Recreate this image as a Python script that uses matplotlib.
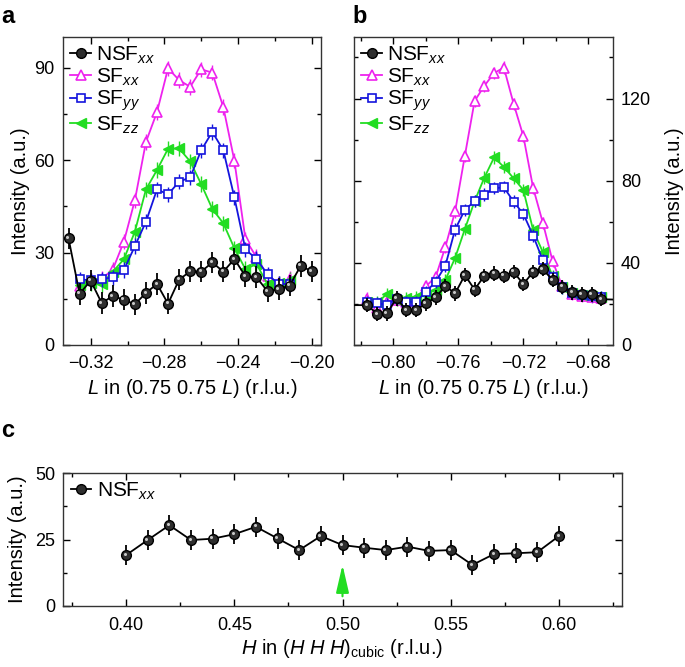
import matplotlib
matplotlib.use("Agg")
import matplotlib.pyplot as plt
from matplotlib.ticker import MultipleLocator, FormatStrFormatter
from matplotlib.lines import Line2D
from matplotlib.transforms import offset_copy

plt.rcParams['font.family'] = ['Liberation Sans', 'DejaVu Sans']
plt.rcParams['mathtext.fontset'] = 'custom'
plt.rcParams['mathtext.rm'] = 'Liberation Sans'
plt.rcParams['mathtext.it'] = 'Liberation Sans:italic'
plt.rcParams['font.size'] = 13

# panel a: (0.75 0.75 L)
L_a = [-0.332, -0.326, -0.320, -0.314, -0.308, -0.302, -0.296, -0.290, -0.284, -0.278, -0.272, -0.266,
       -0.260, -0.254, -0.248, -0.242, -0.236, -0.230, -0.224, -0.218, -0.212, -0.206, -0.200]
nsf_a = [34.6, 16.6, 20.9, 13.6, 15.9, 14.7, 13.2, 16.9, 19.8, 13.4, 21.2, 23.9,
         23.8, 26.8, 23.8, 27.9, 22.3, 22.0, 17.4, 18.2, 19.3, 25.7, 23.9]
L_a_sf = L_a[1:21]
sfxx_a = [19.0, 21.0, 21.5, 24.5, 33.5, 47.0, 65.9, 75.6, 89.8, 86.0, 83.8, 89.5, 88.4, 77.2, 59.8, 34.3, 28.5, 22.5, 20.0, 21.5]
sfyy_a = [21.3, 21.0, 21.3, 22.0, 24.3, 32.1, 40.0, 50.5, 48.9, 53.0, 54.4, 63.2, 69.2, 63.2, 47.9, 31.0, 27.9, 22.9, 19.8, 19.8]
sfzz_a = [19.5, 20.0, 19.8, 23.8, 27.8, 36.8, 50.5, 56.8, 63.7, 63.8, 59.6, 52.2, 44.2, 39.5, 31.4, 24.6, 26.3, 19.7, 20.0, 21.2]

# panel b: (0.75 0.75 L)
L_b = [-0.816, -0.810, -0.804, -0.798, -0.792, -0.786, -0.780, -0.774, -0.768, -0.762, -0.756, -0.750, -0.744,
       -0.738, -0.732, -0.726, -0.720, -0.714, -0.708, -0.702, -0.696, -0.690, -0.684, -0.678, -0.672]
L_b_nsf = [-0.828] + L_b + [-0.660]
nsf_b = [19.4, 19.4, 15.1, 15.4, 22.7, 17.0, 17.0, 20.2, 23.2, 28.7, 25.1, 34.0, 27.0, 33.7,
         34.8, 33.7, 35.6, 29.6, 35.6, 36.9, 31.6, 28.3, 25.6, 24.6, 24.6, 22.3, 22.0]
sfxx_b = [22.6, 18.0, 21.0, 22.0, 21.0, 22.0, 28.6, 33.0, 47.7, 65.0, 92.1, 118.8, 126.2,
          132.4, 135.1, 117.5, 101.7, 76.6, 59.5, 40.8, 28.5, 25.0, 24.0, 23.5, 23.0]
sfyy_b = [21.0, 20.2, 19.7, 22.6, 21.0, 21.0, 25.9, 30.7, 38.6, 56.2, 65.8, 70.0, 73.2,
          76.3, 76.8, 69.8, 63.8, 53.3, 41.2, 33.0, 28.0, 25.5, 24.5, 24.0, 23.4]
sfzz_b = [21.0, 20.7, 24.7, 22.0, 22.9, 23.5, 24.5, 27.0, 31.6, 42.4, 56.4, 70.0, 81.5,
          91.3, 86.7, 81.2, 75.5, 56.0, 45.2, 33.5, 28.0, 25.5, 24.5, 24.0, 23.5]

# panel c: (H H H)
H_c = [0.40, 0.41, 0.42, 0.43, 0.44, 0.45, 0.46, 0.47, 0.48, 0.49, 0.50,
       0.51, 0.52, 0.53, 0.54, 0.55, 0.56, 0.57, 0.58, 0.59, 0.60]
nsf_c = [19.1, 24.8, 30.4, 24.8, 25.3, 27.0, 29.8, 25.4, 21.0, 26.3, 22.9,
         21.9, 21.0, 22.3, 20.7, 21.0, 15.4, 19.5, 19.8, 20.2, 26.3]

MAG = '#ee22ee'
BLUE = '#1414dd'
GREEN = '#22dd22'
LAB = 14.5

NSF_STYLE = dict(color='black', lw=1.3, marker='o', ms=7, mfc='#2e2e2e', mec='black')
XX_STYLE = dict(color=MAG, lw=1.3, marker='^', ms=7, mfc='white', mec=MAG, mew=1.2)
YY_STYLE = dict(color=BLUE, lw=1.3, marker='s', ms=5.5, mfc='white', mec=BLUE, mew=1.2)
ZZ_STYLE = dict(color=GREEN, lw=1.3, marker='<', ms=7, mfc=GREEN, mec=GREEN)


def nsf(ax, x, y, err):
    ax.errorbar(x, y, yerr=err, elinewidth=1.3, capsize=0, zorder=5, **NSF_STYLE)
    # little highlight so the balls look shaded
    hl = offset_copy(ax.transData, fig=ax.figure, x=-1.0, y=1.0, units='points')
    ax.plot(x, y, ls='none', marker='o', ms=2.2, mfc='#c8c8c8', mec='none', transform=hl, zorder=6)


def sf_curves(ax, x, xx, yy, zz, err):
    ax.errorbar(x, xx, yerr=err, elinewidth=1.0, capsize=0, zorder=3, **XX_STYLE)
    ax.errorbar(x, yy, yerr=err, elinewidth=1.0, capsize=0, zorder=4, **YY_STYLE)
    ax.errorbar(x, zz, yerr=err, elinewidth=1.0, capsize=0, zorder=3, **ZZ_STYLE)


def legend(ax, full=True):
    handles = [Line2D([], [], **NSF_STYLE)]
    labels = [r'NSF$_{xx}$']
    if full:
        handles += [Line2D([], [], **XX_STYLE), Line2D([], [], **YY_STYLE), Line2D([], [], **ZZ_STYLE)]
        labels += [r'SF$_{xx}$', r'SF$_{yy}$', r'SF$_{zz}$']
    ax.legend(handles, labels, loc='upper left', frameon=False, handlelength=1.0,
              handletextpad=0.25, labelspacing=0.05, borderaxespad=0.1, borderpad=0.25, fontsize=15)


def style(ax):
    ax.tick_params(which='both', direction='in', top=True, right=True, labelsize=13, pad=6)
    ax.tick_params(which='major', length=5, width=1)
    ax.tick_params(which='minor', length=3, width=1)
    for s in ax.spines.values():
        s.set_linewidth(1.0)
        s.set_color('#333333')


fig = plt.figure(figsize=(6.85, 6.67), dpi=100)
ax_a = fig.add_axes([0.092, 0.4828, 0.3766, 0.4618])
ax_b = fig.add_axes([0.5168, 0.4828, 0.3777, 0.4618])
ax_c = fig.add_axes([0.0924, 0.0919, 0.8152, 0.1985])

# a
sf_curves(ax_a, L_a_sf, sfxx_a, sfyy_a, sfzz_a, 2.5)
nsf(ax_a, L_a, nsf_a, 3.5)
ax_a.set_xlim(-0.335, -0.195)
ax_a.set_ylim(0, 100)
ax_a.set_xticks([-0.32, -0.28, -0.24, -0.20])
ax_a.set_xticklabels(['\u22120.32', '\u22120.28', '\u22120.24', '\u22120.20'])
ax_a.xaxis.set_minor_locator(MultipleLocator(0.02))
ax_a.yaxis.set_major_locator(MultipleLocator(30))
ax_a.yaxis.set_minor_locator(MultipleLocator(15))
ax_a.set_xlabel(r'$L$ in (0.75 0.75 $L$) (r.l.u.)', fontsize=LAB, labelpad=4)
ax_a.set_ylabel('Intensity (a.u.)', fontsize=LAB, labelpad=3)
style(ax_a)
ax_a.tick_params(axis='x', pad=7)
legend(ax_a)

# b
sf_curves(ax_b, L_b, sfxx_b, sfyy_b, sfzz_b, 3.0)
nsf(ax_b, L_b_nsf, nsf_b, 3.5)
ax_b.set_xlim(-0.8242, -0.665)
ax_b.set_ylim(0, 150)
ax_b.set_xticks([-0.80, -0.76, -0.72, -0.68])
ax_b.set_xticklabels(['\u22120.80', '\u22120.76', '\u22120.72', '\u22120.68'])
ax_b.xaxis.set_minor_locator(MultipleLocator(0.02))
ax_b.yaxis.set_major_locator(MultipleLocator(40))
ax_b.yaxis.set_minor_locator(MultipleLocator(20))
style(ax_b)
ax_b.tick_params(axis='x', pad=7)
ax_b.tick_params(labelleft=False, labelright=True)
ax_b.yaxis.set_label_position('right')
ax_b.set_ylabel('Intensity (a.u.)', fontsize=LAB, labelpad=10)
ax_b.set_xlabel(r'$L$ in (0.75 0.75 $L$) (r.l.u.)', fontsize=LAB, labelpad=4)
legend(ax_b)

# c
nsf(ax_c, H_c, nsf_c, 3.8)
ax_c.set_xlim(0.371, 0.629)
ax_c.set_ylim(0, 50)
ax_c.xaxis.set_major_locator(MultipleLocator(0.05))
ax_c.xaxis.set_minor_locator(MultipleLocator(0.025))
ax_c.yaxis.set_major_locator(MultipleLocator(25))
ax_c.yaxis.set_minor_locator(MultipleLocator(12.5))
ax_c.xaxis.set_major_formatter(FormatStrFormatter('%.2f'))
style(ax_c)
ax_c.tick_params(axis='x', pad=8)
ax_c.annotate('', xy=(0.50, 16.5), xytext=(0.50, 2.5),
              arrowprops=dict(arrowstyle='-|>,head_length=1.3,head_width=0.3', color=GREEN, lw=1.5))
ax_c.set_xlabel(r'$H$ in ($H$ $H$ $H$)$_{\mathrm{cubic}}$ (r.l.u.)', fontsize=LAB, labelpad=2)
ax_c.set_ylabel('Intensity (a.u.)', fontsize=LAB, labelpad=6)
legend(ax_c, full=False)

fig.text(0.002, 0.975, 'a', fontsize=17, fontweight='bold', va='center')
fig.text(0.515, 0.975, 'b', fontsize=17, fontweight='bold', va='center')
fig.text(0.002, 0.355, 'c', fontsize=17, fontweight='bold', va='center')

fig.savefig('out.png', dpi=100)
